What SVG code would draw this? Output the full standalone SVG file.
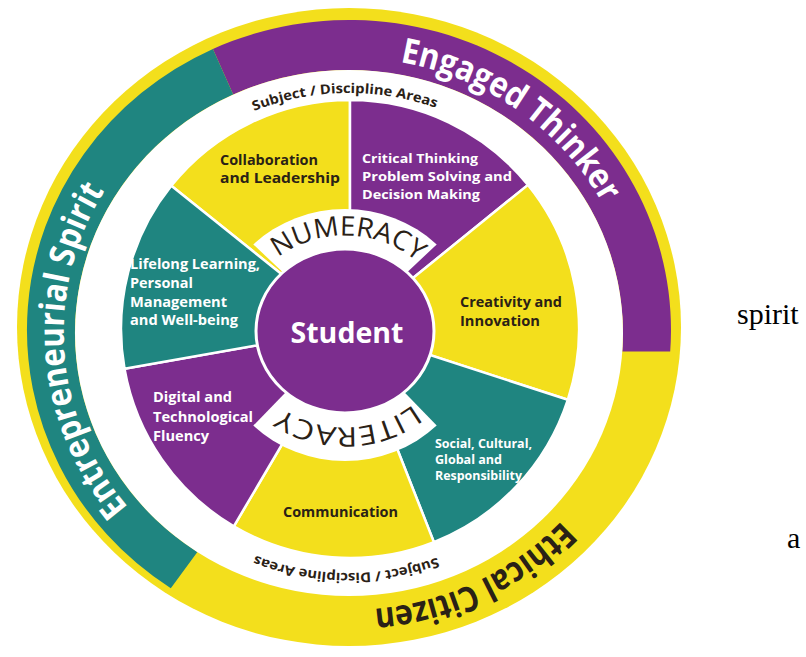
<svg xmlns="http://www.w3.org/2000/svg" width="806" height="657" viewBox="0 0 806 657">
<style>
.y{fill:#F3DF1C}
.p{fill:#7C2D8E}
.t{fill:#1F8580}
.wedge{stroke:#fff;stroke-width:2.5;stroke-linejoin:round}
.sans{font-family:'Open Sans','Liberation Sans',sans-serif}
.lbl{font-weight:700;font-size:14px}
.md{font-size:13px}
.sm{font-size:13.5px}
.xs{font-size:12px}
.dark{fill:#2A2116}
.light{fill:#fff}
.band{font-weight:700;font-size:35px}
.ring{font-weight:700;font-size:13.5px;fill:#2A2116}
.core{font-weight:400;font-size:27px;fill:#2A2116}
.serif{font-family:'Liberation Serif','Times New Roman',serif;font-size:30px;fill:#000}
</style>
<defs>
  <!-- clockwise baseline arcs for curved labels -->
  <path id="arc-top-band" d="M118.2,166.3 A289,277 0 0 1 579.8,499.7"/>
  <path id="arc-left-band" d="M369.2,609.3 A289,277 0 0 1 328.8,56.7"/>
  <path id="arc-bottom-band" d="M606.5,207.2 A289,277 0 0 1 91.5,458.8"/>
  <path id="arc-subject-top" d="M99,337.2 A250,240 0 0 1 599,328.8"/>
  <path id="arc-subject-bottom" d="M599,335.9 A250,240 0 0 1 99,330.1"/>
  <path id="arc-numeracy" d="M239.1,327.6 A106,98 0 0 1 450.9,334.4"/>
  <path id="arc-literacy" d="M450.9,328.6 A106,98 0 0 1 239.1,335.4"/>
</defs>

<rect width="806" height="657" fill="#fff"/>

<!-- outer ring: three attribute bands -->
<g id="ethical-citizen">
  <ellipse cx="349" cy="327" rx="332" ry="319" class="y"/>
</g>
<g id="engaged-thinker">
  <path class="p" d="M212.9,49 A322,310 0 0 1 670.2,351.6 L622.3,351.4 A274,263 0 0 0 233.2,94.6 Z"/>
</g>
<g id="entrepreneurial-spirit">
  <path class="t" d="M170.8,588.2 A322,310 0 0 1 212.9,49 L233.2,94.6 A274,263 0 0 0 197.4,552.1 Z"/>
</g>

<!-- white ring carrying the subject labels -->
<g id="subject-areas">
  <ellipse cx="349" cy="333" rx="274" ry="263" fill="#fff"/>
  <text class="sans ring"><textPath href="#arc-subject-top" startOffset="50%" text-anchor="middle" textLength="186" lengthAdjust="spacingAndGlyphs">Subject / Discipline Areas</textPath></text>
  <text class="sans ring"><textPath href="#arc-subject-bottom" startOffset="50%" text-anchor="middle" textLength="186" lengthAdjust="spacingAndGlyphs">Subject / Discipline Areas</textPath></text>
</g>

<!-- seven competency wedges -->
<g id="collaboration">
  <path class="y wedge" d="M350,329 L171.3,185.8 A229,229 0 0 1 350,100 Z"/>
</g>
<g id="critical-thinking">
  <path class="p wedge" d="M350,329 L350,100 A229,229 0 0 1 528,184.9 Z"/>
</g>
<g id="creativity">
  <path class="y wedge" d="M350,329 L528,184.9 A229,229 0 0 1 567.8,399.8 Z"/>
</g>
<g id="social-cultural">
  <path class="t wedge" d="M350,329 L567.8,399.8 A229,229 0 0 1 433.9,542.1 Z"/>
</g>
<g id="communication">
  <path class="y wedge" d="M350,329 L433.9,542.1 A229,229 0 0 1 233.8,526.3 Z"/>
</g>
<g id="digital-fluency">
  <path class="p wedge" d="M350,329 L233.8,526.3 A229,229 0 0 1 124.5,368.8 Z"/>
</g>
<g id="lifelong-learning">
  <path class="t wedge" d="M350,329 L124.5,368.8 A229,229 0 0 1 171.3,185.8 Z"/>
</g>

<!-- numeracy / literacy collars -->
<g id="numeracy">
  <path fill="#fff" d="M345,331 L253.3,244.4 A132,126 0 0 1 436.7,244.4 Z"/>
  <text class="sans core"><textPath href="#arc-numeracy" startOffset="50%" text-anchor="middle" textLength="150" lengthAdjust="spacingAndGlyphs">NUMERACY</textPath></text>
</g>
<g id="literacy">
  <path fill="#fff" d="M345,331 L436.7,425.6 A132,126 0 0 1 253.3,425.6 Z"/>
  <text class="sans core"><textPath href="#arc-literacy" startOffset="50%" text-anchor="middle" textLength="140" lengthAdjust="spacingAndGlyphs">LITERACY</textPath></text>
</g>

<g id="student">
  <ellipse cx="345" cy="331" rx="89" ry="82" class="p" stroke="#fff" stroke-width="3"/>
  <text class="sans light" x="347" y="343" font-size="29" font-weight="700" text-anchor="middle" textLength="113" lengthAdjust="spacingAndGlyphs">Student</text>
</g>

<!-- band titles -->
<g id="band-titles" class="sans band">
  <text class="light"><textPath href="#arc-top-band" startOffset="50%" text-anchor="middle" textLength="255" lengthAdjust="spacingAndGlyphs">Engaged Thinker</textPath></text>
  <text class="light"><textPath href="#arc-left-band" startOffset="50%" text-anchor="middle" textLength="340" lengthAdjust="spacingAndGlyphs">Entrepreneurial Spirit</textPath></text>
  <text class="dark"><textPath href="#arc-bottom-band" startOffset="50%" text-anchor="middle" textLength="212" lengthAdjust="spacingAndGlyphs">Ethical Citizen</textPath></text>
</g>

<!-- wedge labels -->
<g id="wedge-labels" class="sans lbl">
  <text class="dark" x="220" y="165" textLength="98" lengthAdjust="spacingAndGlyphs">Collaboration</text>
  <text class="dark" x="220" y="183" textLength="120" lengthAdjust="spacingAndGlyphs">and Leadership</text>

  <text class="light md" x="362" y="163" textLength="116" lengthAdjust="spacingAndGlyphs">Critical Thinking</text>
  <text class="light md" x="362" y="181" textLength="150" lengthAdjust="spacingAndGlyphs">Problem Solving and</text>
  <text class="light md" x="362" y="199" textLength="118" lengthAdjust="spacingAndGlyphs">Decision Making</text>

  <text class="dark" x="460" y="307" textLength="102" lengthAdjust="spacingAndGlyphs">Creativity and</text>
  <text class="dark" x="460" y="326" textLength="80" lengthAdjust="spacingAndGlyphs">Innovation</text>

  <text class="light xs" x="435" y="448" textLength="97" lengthAdjust="spacingAndGlyphs">Social, Cultural,</text>
  <text class="light xs" x="435" y="464" textLength="67" lengthAdjust="spacingAndGlyphs">Global and</text>
  <text class="light xs" x="435" y="480" textLength="87" lengthAdjust="spacingAndGlyphs">Responsibility</text>

  <text class="dark" x="283" y="517" textLength="115" lengthAdjust="spacingAndGlyphs">Communication</text>

  <text class="light" x="153" y="402" textLength="79" lengthAdjust="spacingAndGlyphs">Digital and</text>
  <text class="light" x="153" y="422" textLength="100" lengthAdjust="spacingAndGlyphs">Technological</text>
  <text class="light" x="153" y="441" textLength="56" lengthAdjust="spacingAndGlyphs">Fluency</text>

  <text class="light sm" x="130" y="269" textLength="130" lengthAdjust="spacingAndGlyphs">Lifelong Learning,</text>
  <text class="light sm" x="130" y="288" textLength="63" lengthAdjust="spacingAndGlyphs">Personal</text>
  <text class="light sm" x="130" y="307" textLength="97" lengthAdjust="spacingAndGlyphs">Management</text>
  <text class="light sm" x="130" y="325" textLength="108" lengthAdjust="spacingAndGlyphs">and Well-being</text>
</g>

<!-- surrounding page text -->
<text class="serif" x="737" y="324">spirit</text>
<text class="serif" x="787" y="548">a</text>
</svg>
